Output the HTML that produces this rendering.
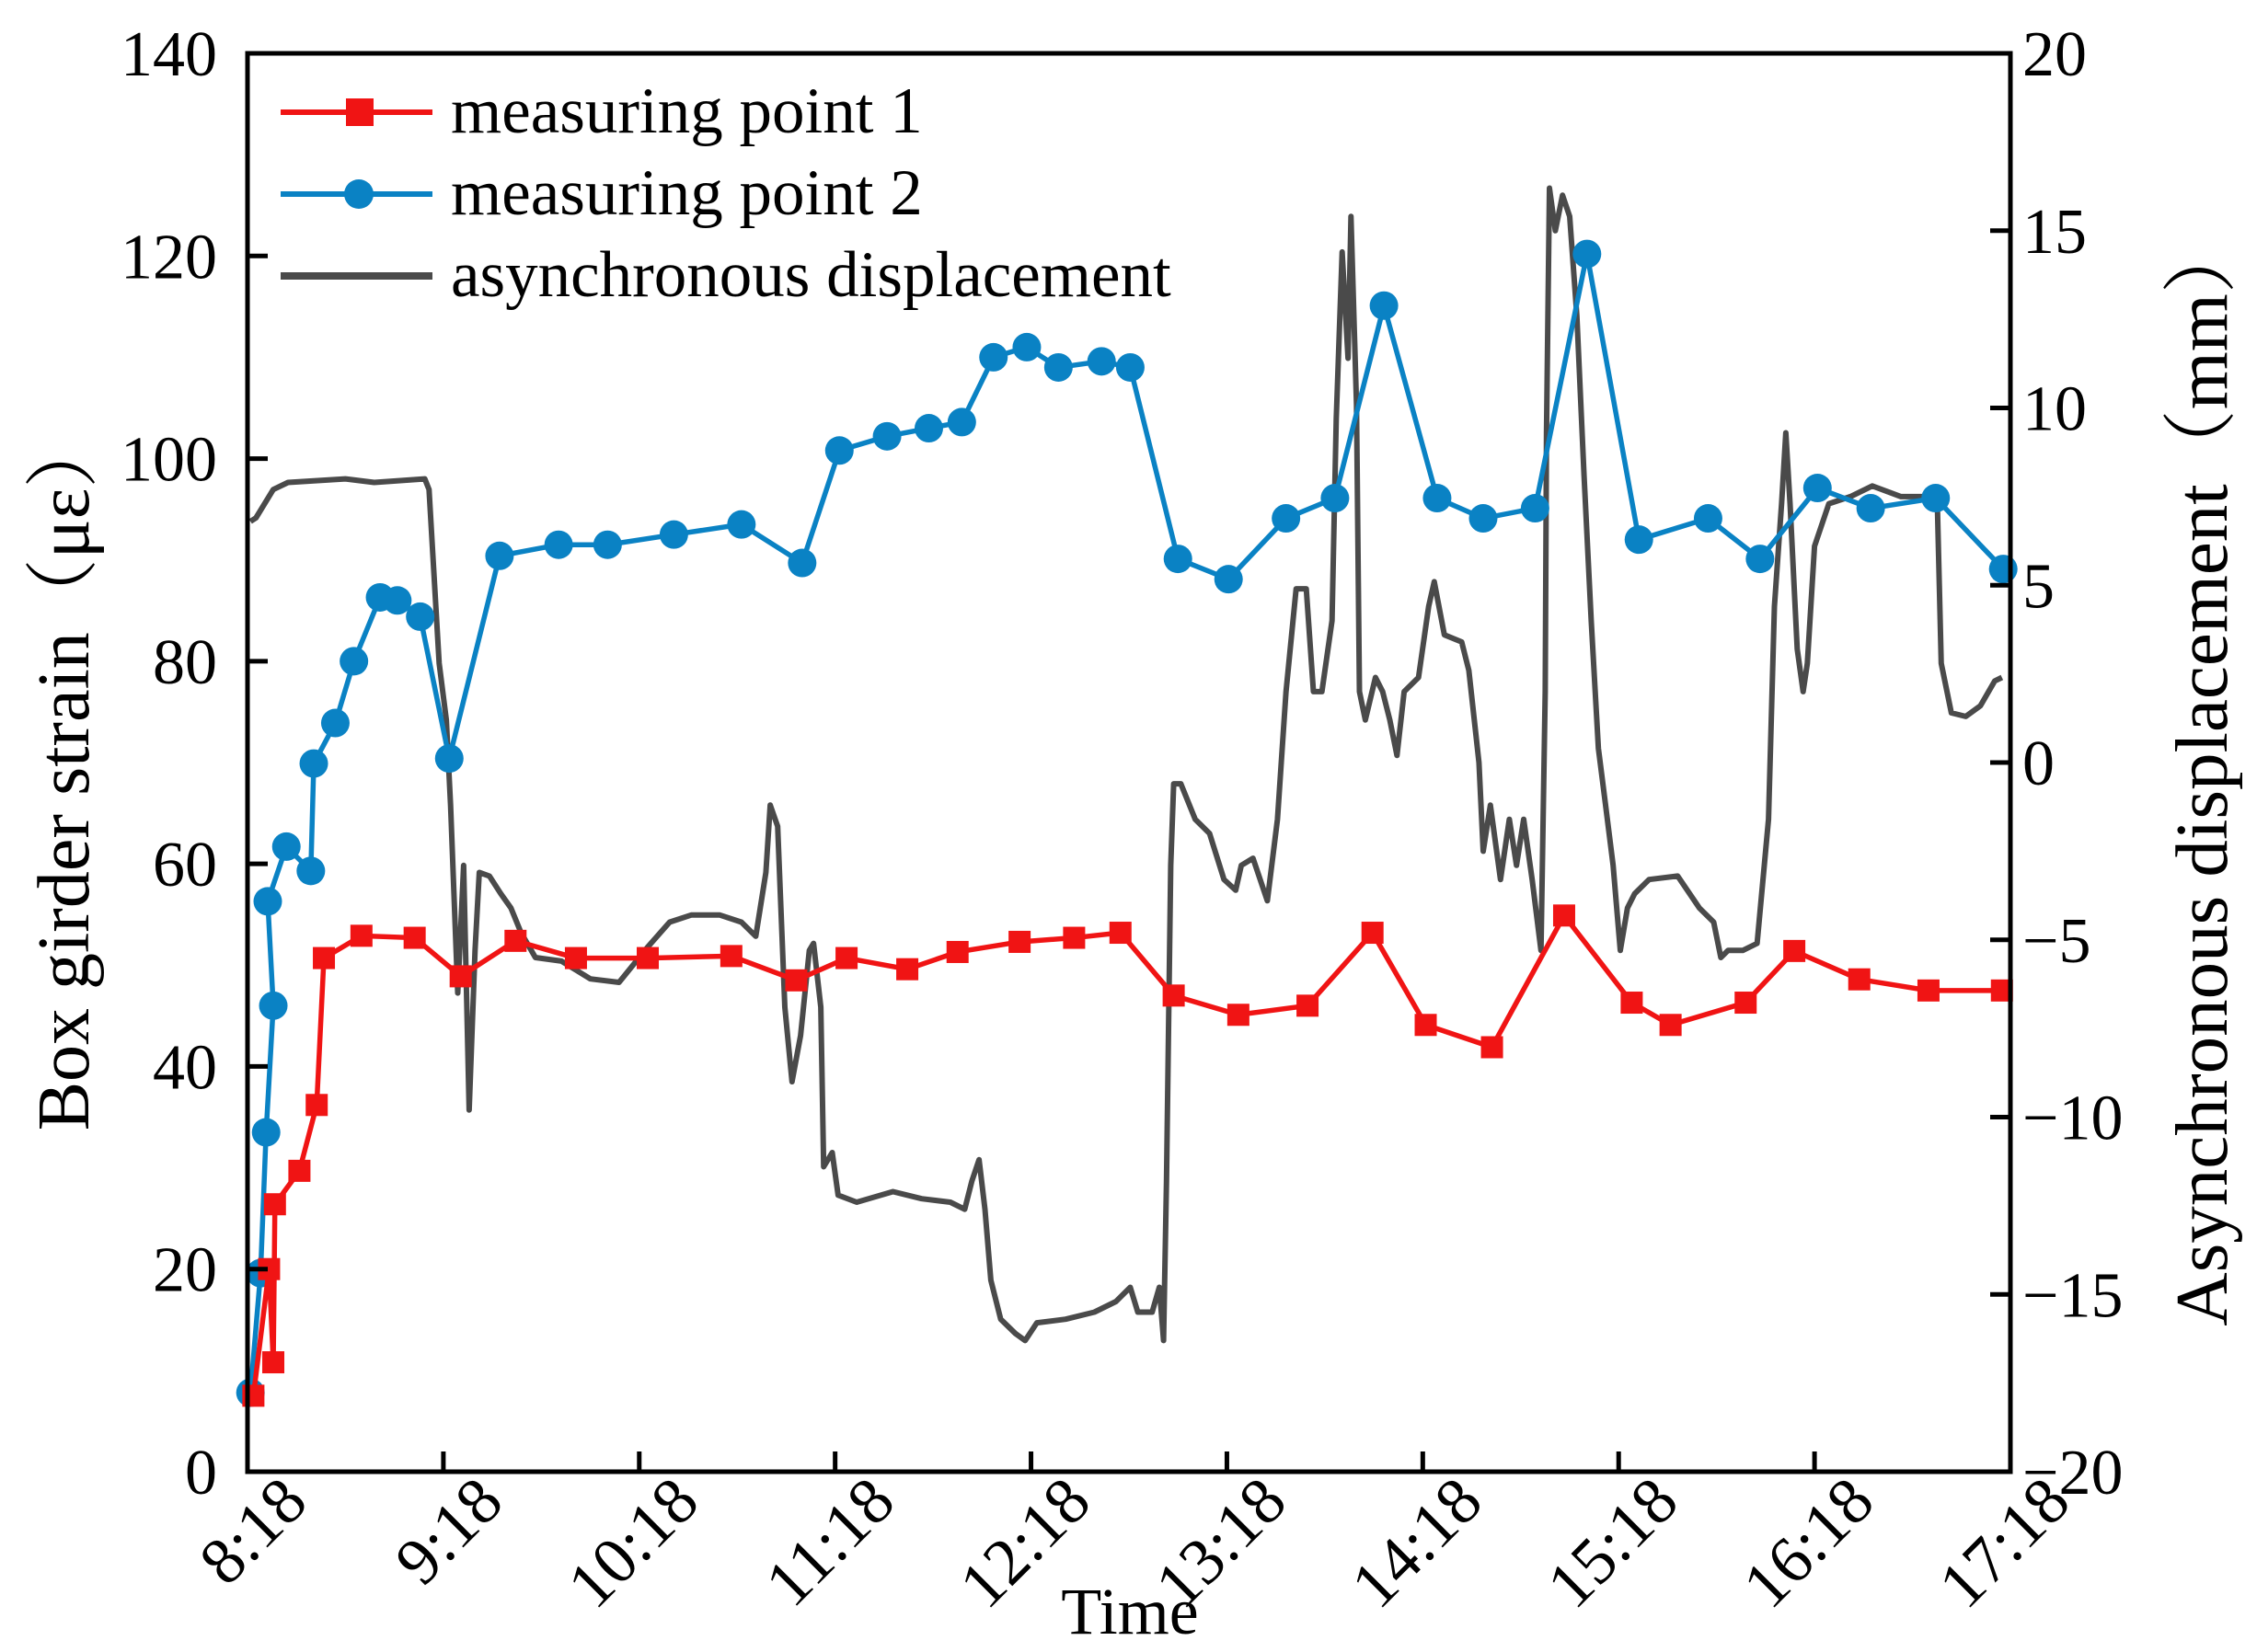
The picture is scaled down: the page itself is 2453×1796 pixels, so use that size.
<!DOCTYPE html>
<html><head><meta charset="utf-8"><style>
html,body{margin:0;padding:0;background:#fff;}
svg{display:block;font-family:"Liberation Serif","Noto Serif CJK SC",serif;}
</style></head><body>
<svg id="chart" width="2453" height="1796" viewBox="0 0 2453 1796" xmlns="http://www.w3.org/2000/svg">
</svg>
<script>
// ---- data ----
const xTickLabels = ["8:18","9:18","10:18","11:18","12:18","13:18","14:18","15:18","16:18","17:18"];
const yLeftTicks = [0,20,40,60,80,100,120,140];
const yRightTicks = [-20,-15,-10,-5,0,5,10,15,20];
const p1Minutes = [1.8,6.6,7.9,8.4,15.9,21.2,23.4,34.9,51.2,65.3,82.1,100.6,122.6,148.2,168.1,183.5,202.1,217.5,236.5,253.2,267.4,283.7,303.5,324.7,344.6,360.9,381.2,403.3,424.0,435.9,458.9,473.8,493.7,514.9,537.4];
const p1Strain = [7.5,20,10.8,26.4,29.7,36.2,50.7,52.9,52.7,48.9,52.4,50.7,50.7,50.9,48.5,50.7,49.6,51.3,52.3,52.7,53.2,47.0,45.1,46.0,53.2,44.1,41.9,54.9,46.3,44.1,46.3,51.4,48.6,47.5,47.5];
const p2Minutes = [0.9,4.0,5.7,7.9,6.2,11.9,19.4,20.3,26.9,32.6,40.6,45.9,52.9,61.8,77.2,95.3,110.3,130.6,151.3,169.9,181.3,195.9,208.7,218.8,228.5,238.7,248.4,261.6,270.4,285.0,300.5,318.1,333.1,348.1,364.4,378.5,394.4,410.3,426.2,447.4,463.3,480.9,497.2,517.1,537.8];
const p2Strain = [7.8,19.6,33.5,46,56.3,61.7,59.3,69.9,73.9,80,86.3,86,84.4,70.4,90.4,91.5,91.5,92.5,93.5,89.7,100.8,102.2,103,103.6,110,111,109,109.6,109,90.1,88.1,94.1,96.1,115.1,96.1,94.1,95.1,120.2,92,94.1,90.1,97.1,95.1,96.1,89.1];
const dispMinutes = [0.9,2.6,7.9,12.4,30.0,38.8,54.3,55.6,58.7,60.9,62.2,64.4,66.2,67.9,69.7,71.0,74.1,77.6,80.7,83.8,88.2,96.2,105.0,113.8,122.6,129.3,135.9,144.7,151.3,155.7,158.8,160.1,162.4,164.6,166.8,169.4,172.1,173.4,175.6,176.5,179.1,180.9,186.6,197.7,206.5,215.3,219.7,221.9,224.1,225.9,227.7,230.7,235.2,238.2,241.8,250.6,259.4,266.0,270.4,272.7,277.1,279.3,280.6,281.5,282.8,283.7,285.9,290.3,294.7,299.1,302.7,304.4,308.0,312.4,315.5,318.1,321.2,324.3,326.5,329.1,332.2,333.5,335.3,337.1,338.0,339.7,340.6,342.4,345.5,347.7,349.9,352.1,354.3,358.7,361.8,363.5,366.6,371.9,374.1,377.2,378.5,380.7,383.8,386.5,388.7,390.9,393.5,396.2,397.5,397.9,398.8,400.6,402.8,405.0,407.2,409.4,411.6,413.8,416.0,418.3,420.5,422.7,424.9,429.3,438.1,440.3,444.7,449.1,451.3,453.5,458.0,462.4,464.6,465.9,467.7,469.9,471.2,472.5,474.7,476.5,477.8,480.0,484.4,491.0,497.7,506.5,515.3,517.5,518.8,521.9,526.3,530.8,535.2,537.4];
const dispMm = [6.8,6.9,7.7,7.9,8.0,7.9,8.0,7.7,2.8,1.2,-1.2,-6.5,-2.9,-9.8,-5.3,-3.1,-3.2,-3.7,-4.1,-4.8,-5.5,-5.6,-6.1,-6.2,-5.2,-4.5,-4.3,-4.3,-4.5,-4.9,-3.1,-1.2,-1.8,-6.9,-9.0,-7.7,-5.3,-5.1,-6.9,-11.4,-11.0,-12.2,-12.4,-12.1,-12.3,-12.4,-12.6,-11.8,-11.2,-12.6,-14.6,-15.7,-16.1,-16.3,-15.8,-15.7,-15.5,-15.2,-14.8,-15.5,-15.5,-14.8,-16.3,-11.8,-2.9,-0.6,-0.6,-1.6,-2.0,-3.3,-3.6,-2.9,-2.7,-3.9,-1.6,2.0,4.9,4.9,2.0,2.0,4.0,9.7,14.4,11.4,15.4,10.1,2.0,1.2,2.4,2.0,1.2,0.2,2.0,2.4,4.4,5.1,3.6,3.4,2.6,0.0,-2.5,-1.2,-3.3,-1.6,-2.9,-1.6,-3.3,-5.3,2.0,9.3,16.2,15.0,16.0,15.4,12.6,8.1,4.0,0.4,-1.2,-2.9,-5.3,-4.1,-3.7,-3.3,-3.2,-3.5,-4.1,-4.5,-5.5,-5.3,-5.3,-5.1,-2.9,-1.6,4.4,7.3,9.3,7.3,3.2,2.0,2.8,6.1,7.3,7.5,7.8,7.5,7.5,7.7,2.8,1.4,1.3,1.6,2.3,2.4];

// ---- layout ----
const L=269,R=2185,T=58,B=1600;
const NS="http://www.w3.org/2000/svg";
const svg=document.getElementById('chart');
const xs=m=>L+(R-L)*m/540;
const yl=v=>B-(B-T)*v/140;
const yr=v=>B-(B-T)*(v+20)/40;
function mk(tag,attrs,parent){const e=document.createElementNS(NS,tag);for(const k in attrs)e.setAttribute(k,attrs[k]);(parent||svg).appendChild(e);return e;}

// displacement line
const dPts=dispMinutes.map((m,i)=>xs(m).toFixed(1)+","+yr(dispMm[i]).toFixed(1)).join(" ");
const dl=mk('polyline',{points:dPts,fill:'none',stroke:'#4a4a4a','stroke-width':6,'stroke-linejoin':'round'});



// point 2
const b2=mk('polyline',{points:p2Minutes.map((m,i)=>xs(m)+","+yl(p2Strain[i])).join(" "),fill:'none',stroke:'#0a82c4','stroke-width':5.5});


p2Minutes.forEach((m,i)=>{
  const c=mk('circle',{cx:xs(m),cy:yl(p2Strain[i]),r:15.5,fill:'#0a82c4'});
  
  
});
// point 1
const r1=mk('polyline',{points:p1Minutes.map((m,i)=>xs(m)+","+yl(p1Strain[i])).join(" "),fill:'none',stroke:'#f01414','stroke-width':5.5});


p1Minutes.forEach((m,i)=>{
  const s=mk('rect',{x:xs(m)-12,y:yl(p1Strain[i])-12,width:24,height:24,fill:'#f01414'});
  
  
});

// frame
const fr=mk('rect',{x:L,y:T,width:R-L,height:B-T,fill:'none',stroke:'#000','stroke-width':5});



// left ticks
yLeftTicks.forEach(v=>{
  const y=yl(v);
  if(v>0&&v<140){const t=mk('line',{x1:L,x2:L+22,y1:y,y2:y,stroke:'#000','stroke-width':5});
  }
  const tx=mk('text',{x:236,y:y+24,'text-anchor':'end','font-size':70,fill:'#000'});tx.textContent=v;
  
  
});
// right ticks
yRightTicks.forEach(v=>{
  const y=yr(v);
  if(v>-20&&v<20){const t=mk('line',{x1:R-22,x2:R,y1:y,y2:y,stroke:'#000','stroke-width':5});
  }
  const tx=mk('text',{x:2198,y:y+24,'text-anchor':'start','font-size':70,fill:'#000'});tx.textContent=(v<0?'\u2212'+(-v):v);
  
  
});
// x ticks
xTickLabels.forEach((lab,i)=>{
  const x=xs(i*60);
  if(i>0&&i<9){const t=mk('line',{x1:x,x2:x,y1:B,y2:B-22,stroke:'#000','stroke-width':5});
  }
  const tx=mk('text',{x:x+68,y:1636,'text-anchor':'end','font-size':72,fill:'#000',transform:`rotate(-45 ${x+68} 1636)`});tx.textContent=lab;
  
  
});

// titles
const xt=mk('text',{x:1228,y:1776,'text-anchor':'middle','font-size':72});xt.textContent='Time';

const ylt=mk('text',{x:0,y:0,'text-anchor':'middle','font-size':80,transform:'translate(96 840) rotate(-90)'});ylt.textContent='Box girder strain（με）';

const yrt=mk('text',{x:0,y:0,'text-anchor':'middle','font-size':81,transform:'translate(2420 840) rotate(-90)'});yrt.textContent='Asynchronous displacement（mm）';


// legend
const leg=mk('g',{});

const legNames=['measuring point 1','measuring point 2','asynchronous displacement'];
const legColors=['#f01414','#0a82c4','#4a4a4a'];
legNames.forEach((n,i)=>{
  const y=122+i*89;
  const ln=mk('line',{x1:305,x2:470,y1:y,y2:y,stroke:legColors[i],'stroke-width':i==2?8:6},leg);
  
  if(i==0){const s=mk('rect',{x:376,y:y-15,width:30,height:30,fill:legColors[0]},leg);}
  if(i==1){const c=mk('circle',{cx:390,cy:y,r:16,fill:legColors[1]},leg);}
  const t=mk('text',{x:490,y:y+22,'font-size':71},leg);t.textContent=n;
  
});
</script>
</body></html>
